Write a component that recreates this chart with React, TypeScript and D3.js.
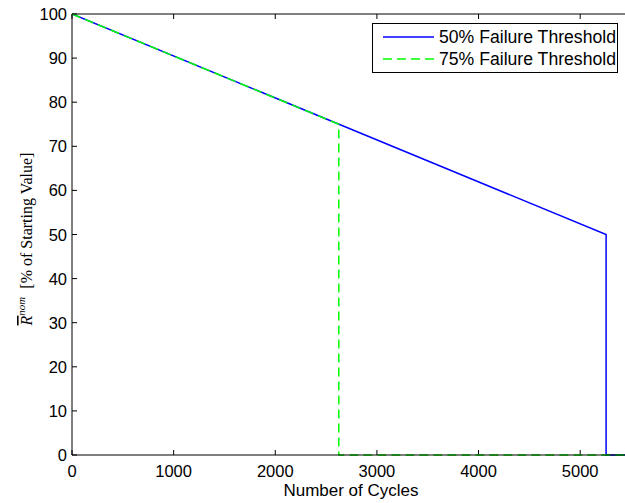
import React, { useRef, useEffect } from "react";
import * as d3 from "d3";

// series: [cycles, % of starting value]
const fail50 = [
  [0, 100],
  [5255, 50],
  [5255, 0],
  [5600, 0],
];
const fail75 = [
  [0, 100],
  [2625, 75],
  [2625, 0],
  [5600, 0],
];
const xTicks = [0, 1000, 2000, 3000, 4000, 5000];
const yTicks = [0, 10, 20, 30, 40, 50, 60, 70, 80, 90, 100];
const legendLabels = ["50% Failure Threshold", "75% Failure Threshold"];

const App = () => {
  const ref = useRef<SVGSVGElement>(null);

  useEffect(() => {
    const width = 625;
    const height = 503;
    const m = { left: 72, top: 14, bottom: 48 };
    const x = d3.scaleLinear().domain([0, 5500]).range([m.left, 631]);
    const y = d3.scaleLinear().domain([0, 100]).range([height - m.bottom, m.top]);

    const svg = d3.select(ref.current);
    svg.selectAll("*").remove();
    svg.attr("width", width).attr("height", height);
    svg.append("rect").attr("width", width).attr("height", height).attr("fill", "#fff");

    const font = "Liberation Sans, Arial, sans-serif";
    const x0 = x.range()[0], x1 = x.range()[1];
    const y0 = y.range()[0], y1 = y.range()[1];

    const line = d3.line<number[]>().x(d => x(d[0])).y(d => y(d[1]));
    const clip = svg.append("clipPath").attr("id", "plot-clip");
    clip.append("rect").attr("x", x0).attr("y", y1 - 2).attr("width", x1 - x0).attr("height", y0 - y1 + 4);

    const g = svg.append("g");
    // ticks (inward, both sides)
    xTicks.forEach(t => {
      g.append("line").attr("x1", x(t)).attr("x2", x(t)).attr("y1", y0).attr("y2", y0 - 5).attr("stroke", "#000");
      g.append("line").attr("x1", x(t)).attr("x2", x(t)).attr("y1", y1).attr("y2", y1 + 5).attr("stroke", "#000");
      g.append("text").attr("x", x(t)).attr("y", y0 + 22).attr("text-anchor", "middle")
        .attr("font-family", font).attr("font-size", 16.5).text(t);
    });
    yTicks.forEach(t => {
      g.append("line").attr("x1", x0).attr("x2", x0 + 5).attr("y1", y(t)).attr("y2", y(t)).attr("stroke", "#000");
      g.append("text").attr("x", x0 - 5).attr("y", y(t) + 6).attr("text-anchor", "end")
        .attr("font-family", font).attr("font-size", 16.5).text(t);
    });

    svg.append("path").datum(fail50).attr("d", line).attr("fill", "none")
      .attr("stroke", "#0000ff").attr("stroke-width", 1.5).attr("clip-path", "url(#plot-clip)");
    svg.append("path").datum(fail75).attr("d", line).attr("fill", "none")
      .attr("stroke", "#00ff00").attr("stroke-width", 1.5).attr("stroke-dasharray", "9 5")
      .attr("clip-path", "url(#plot-clip)");

    // axes box
    svg.append("path").attr("d", `M${x1},${y1}H${x0}V${y0}H${x1}`).attr("fill", "none")
      .attr("stroke", "#000").attr("stroke-width", 1);

    // legend
    const lg = svg.append("g");
    lg.append("rect").attr("x", 372.5).attr("y", 23.5).attr("width", 245).attr("height", 49)
      .attr("fill", "#fff").attr("stroke", "#000");
    const styles = [
      { color: "#0000ff", dash: null },
      { color: "#00ff00", dash: "9 5" },
    ];
    legendLabels.forEach((lab, i) => {
      const ly = 37 + i * 22;
      lg.append("line").attr("x1", 383).attr("x2", 434).attr("y1", ly).attr("y2", ly)
        .attr("stroke", styles[i].color).attr("stroke-width", 1.5).attr("stroke-dasharray", styles[i].dash);
      lg.append("text").attr("x", 439).attr("y", ly + 6).attr("font-family", font).attr("font-size", 17.5)
        .attr("textLength", 177).attr("lengthAdjust", "spacingAndGlyphs").text(lab);
    });

    // axis labels
    svg.append("text").attr("x", 351).attr("y", 496).attr("text-anchor", "middle")
      .attr("font-family", font).attr("font-size", 17).text("Number of Cycles");

    const yl = svg.append("text").attr("transform", `translate(32,239) rotate(-90)`)
      .attr("text-anchor", "middle").attr("font-family", "Liberation Serif, DejaVu Serif, serif").attr("font-size", 16);
    yl.append("tspan").attr("font-style", "italic").style("text-decoration", "overline").text("R");
    yl.append("tspan").attr("font-style", "italic").attr("font-size", 11).attr("dy", -7).text("nom");
    yl.append("tspan").attr("dy", 7).text("\u2002[% of Starting Value]");
  }, []);

  return <svg ref={ref} style={{ display: "block", position: "absolute", left: 0, top: 0 }} />;
};

export default App;
